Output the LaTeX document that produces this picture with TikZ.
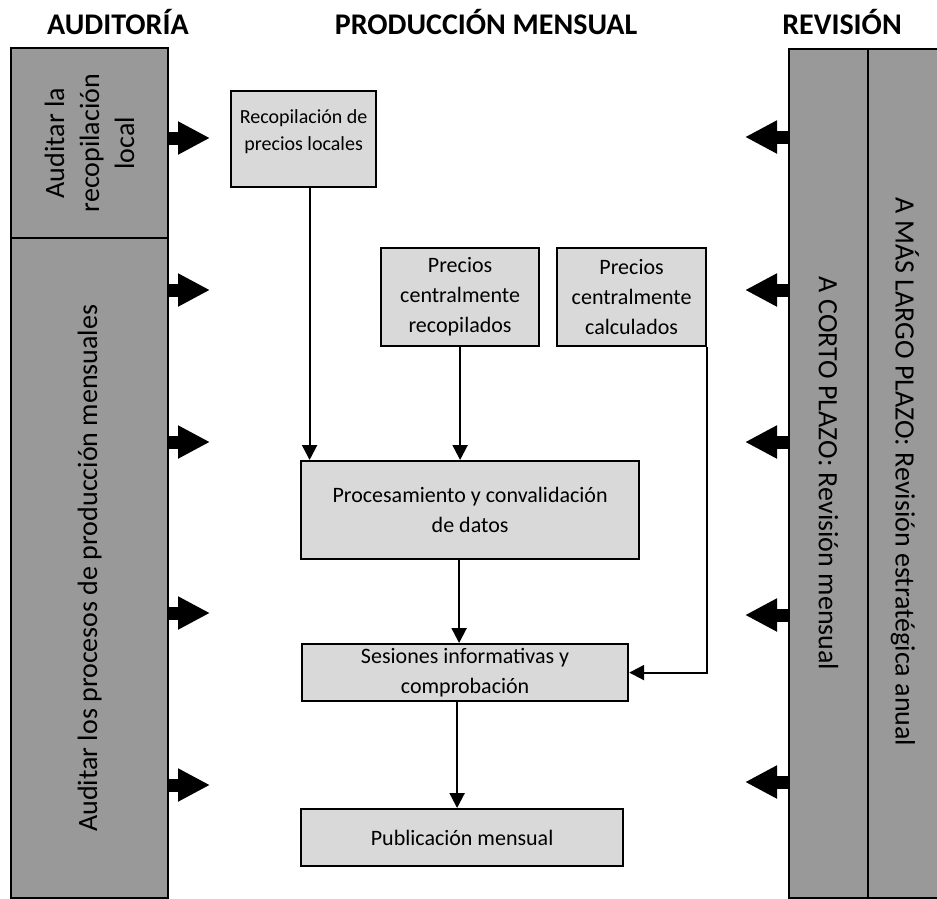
\documentclass[tikz,border=0pt]{standalone}
\usepackage{fontspec}
\setmainfont{Carlito}
\usetikzlibrary{arrows.meta}
\definecolor{colgray}{RGB}{153,153,153}
\definecolor{boxgray}{RGB}{217,217,217}
\begin{document}
\begin{tikzpicture}[x=1pt,y=-1pt,
  column/.style={draw, line width=2.2pt, fill=colgray, rectangle, inner sep=0pt, anchor=north west},
  stepbox/.style={draw, line width=2.2pt, fill=boxgray, rectangle, inner sep=0pt, anchor=north west,
    align=center, font=\fontsize{22}{30}\selectfont},
  header/.style={font=\bfseries\fontsize{30}{34}\selectfont},
  vlabel/.style={align=center, font=\fontsize{28}{35}\selectfont},
  flow/.style={line width=2.2pt, -{Triangle[width=15pt,length=15pt]}},
  bigarrow/.style={line width=13pt, -{Triangle[width=31pt,length=32pt]}},
]
\useasboundingbox (0,0) rectangle (937,898);

% column headings
\node[header] (haud) at (118,22) {AUDITORÍA};
\node[header] (hprod) at (486,22) {PRODUCCIÓN MENSUAL};
\node[header] (hrev) at (842,22) {REVISIÓN};

% audit column
\node[column, minimum width=157pt, minimum height=190pt] (audtop) at (10,47) {};
\node[column, minimum width=157pt, minimum height=660pt] (audbot) at (10,237) {};
\node[vlabel, rotate=90] (audtoptxt) at (audtop.center) {Auditar la\\recopilación\\local};
\node[vlabel, rotate=90] (audbottxt) at (audbot.center) {Auditar los procesos de producción mensuales};

% review columns
\begin{scope}
  \clip (0,0) rectangle (937,898);
  \node[column, minimum width=85pt, minimum height=849pt] (longterm) at (867,48) {};
\end{scope}
\node[column, minimum width=79pt, minimum height=849pt] (shortterm) at (788,48) {};
\node[vlabel, rotate=-90] (shorttxt) at (shortterm.center) {A CORTO PLAZO: Revisión mensual};
\node[vlabel, rotate=-90] (longtxt) at (905,472) {A MÁS LARGO PLAZO: Revisión estratégica anual};

% monthly production steps
\node[stepbox, minimum width=145pt, minimum height=96pt, text depth=19pt,
  font=\fontsize{20}{27}\selectfont] (rec) at (230,90)
  {Recopilación de\\precios locales};
\node[stepbox, minimum width=158pt, minimum height=98pt] (pcr) at (380,247)
  {Precios\\centralmente\\recopilados};
\node[stepbox, minimum width=149pt, minimum height=98pt] (pcc) at (556,247)
  {Precios\\centralmente\\calculados};
\node[stepbox, minimum width=338pt, minimum height=98pt] (proc) at (300,460)
  {Procesamiento y convalidación\\de datos};
\node[stepbox, minimum width=326pt, minimum height=57pt] (ses) at (301,643)
  {Sesiones informativas y\\comprobación};
\node[stepbox, minimum width=322pt, minimum height=57pt] (pub) at (300,808)
  {Publicación mensual};

% flow between steps
\draw[flow] ([xshift=6pt]rec.south) -- ([xshift=6pt]rec.south |- proc.north);
\draw[flow] (pcr.south) -- (pcr.south |- proc.north);
\draw[flow] ([xshift=-11pt]proc.south) -- ([xshift=-11pt]proc.south |- ses.north);
\draw[flow] (pcc.south east) |- (ses.east);
\draw[flow] ([xshift=-8pt]ses.south) -- ([xshift=-8pt]ses.south |- pub.north);

% audit arrows
\coordinate (la1) at (210,138);
\coordinate (la2) at (210,290);
\coordinate (la3) at (210,442);
\coordinate (la4) at (210,613);
\coordinate (la5) at (210,785);
\draw[bigarrow] (audtop.east |- la1) -- (la1);
\foreach \c in {la2,la3,la4,la5}
  \draw[bigarrow] (audbot.east |- \c) -- (\c);

% review arrows
\coordinate (ra1) at (745,137);
\coordinate (ra2) at (745,290);
\coordinate (ra3) at (745,442);
\coordinate (ra4) at (745,615);
\coordinate (ra5) at (745,782);
\foreach \c in {ra1,ra2,ra3,ra4,ra5}
  \draw[bigarrow] (shortterm.west |- \c) -- (\c);
\end{tikzpicture}
\end{document}
